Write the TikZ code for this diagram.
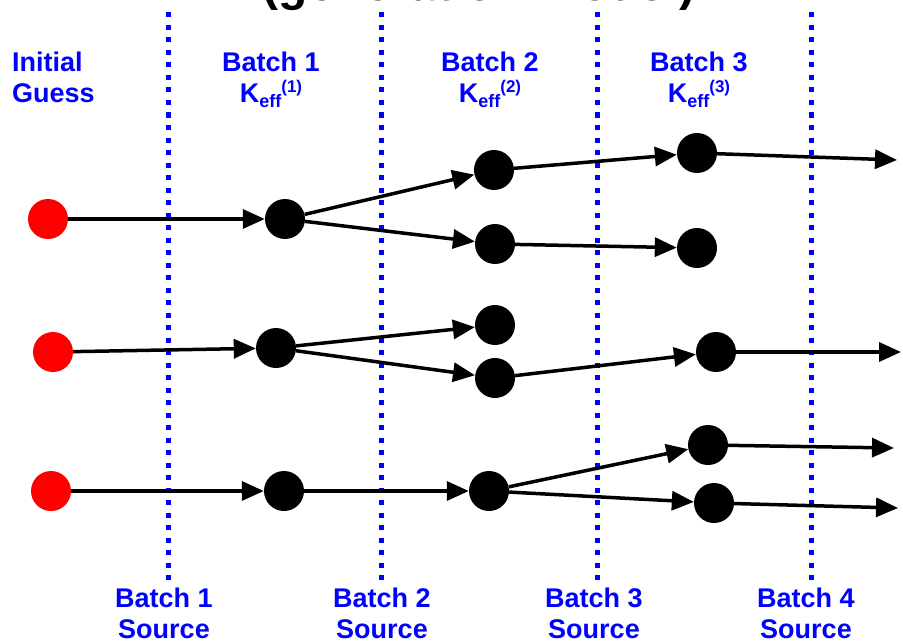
\documentclass[tikz,border=0pt]{standalone}
\usepackage{fontspec}
\setmainfont{Liberation Sans}
\usepackage{tikz}
\usetikzlibrary{arrows.meta}
\newcommand{\keff}[1]{K\raisebox{-5pt}{\fontsize{18}{18}\selectfont eff}\raisebox{10pt}{\fontsize{17}{17}\selectfont (#1)}}

\begin{document}
\begin{tikzpicture}[x=1pt,y=-1pt]
\tikzstyle{every node}=[font=\bfseries\fontsize{27}{31}\selectfont]
\tikzstyle{guess}=[circle, fill=red, minimum size=40pt, inner sep=0pt]
\tikzstyle{batch}=[circle, fill=black, minimum size=40pt, inner sep=0pt]
\tikzstyle{hist}=[line width=3.5pt, -{Triangle[length=22pt,width=19pt]}]
\tikzstyle{border}=[blue, line width=5pt, dash pattern=on 5pt off 7.5pt]
\tikzstyle{lbl}=[blue, align=center, inner sep=0pt, anchor=north]
\clip (0,0) rectangle (903,642);
\node (title) [anchor=base, inner sep=0pt, font=\bfseries\fontsize{48}{48}\selectfont] at (479,1) {(generation model)};
% batch borders
\foreach \x in {168,381,597,811}
  \draw[border] (\x,12.5) -- (\x,580);
\node (g1) [guess] at (48,219) {};
\node (g2) [guess] at (53,352) {};
\node (g3) [guess] at (51,491) {};
\node (a1) [batch] at (285,219) {};
\node (a2) [batch] at (276,348) {};
\node (a3) [batch] at (284,491) {};
\node (b1) [batch] at (494,170) {};
\node (b2) [batch] at (495,244) {};
\node (b3) [batch] at (495,325) {};
\node (b4) [batch] at (495,378) {};
\node (b5) [batch] at (489,491) {};
\node (c1) [batch] at (697,153) {};
\node (c2) [batch] at (697,248) {};
\node (c3) [batch] at (716,352) {};
\node (c4) [batch] at (708,445) {};
\node (c5) [batch] at (714,503) {};
\coordinate (e1) at (897,160);
\coordinate (e3) at (901,352);
\coordinate (e4) at (894,448);
\coordinate (e5) at (898,508);
\draw[hist] (g1) -- (a1);
\draw[hist] (g2) -- (a2);
\draw[hist] (g3) -- (a3);
\draw[hist] (a1) -- (b1);
\draw[hist] (a1) -- (b2);
\draw[hist] (a2) -- (b3);
\draw[hist] (a2) -- (b4);
\draw[hist] (a3) -- (b5);
\draw[hist] (b1) -- (c1);
\draw[hist] (b2) -- (c2);
\draw[hist] (b4) -- (c3);
\draw[hist] (b5) -- (c4);
\draw[hist] (b5) -- (c5);
\draw[hist] (c1) -- (e1);
\draw[hist] (c3) -- (e3);
\draw[hist] (c4) -- (e4);
\draw[hist] (c5) -- (e5);
% labels
\node (init) [lbl, align=left, anchor=north west] at (12,52) {Initial\\Guess};
\node (k1) [lbl] at (271,52) {Batch 1\\\keff{1}};
\node (k2) [lbl] at (490,52) {Batch 2\\\keff{2}};
\node (k3) [lbl] at (699,52) {Batch 3\\\keff{3}};
\node (s1) [lbl] at (164,588) {Batch 1\\Source};
\node (s2) [lbl] at (382,588) {Batch 2\\Source};
\node (s3) [lbl] at (594,588) {Batch 3\\Source};
\node (s4) [lbl] at (806,588) {Batch 4\\Source};
\end{tikzpicture}
\end{document}
